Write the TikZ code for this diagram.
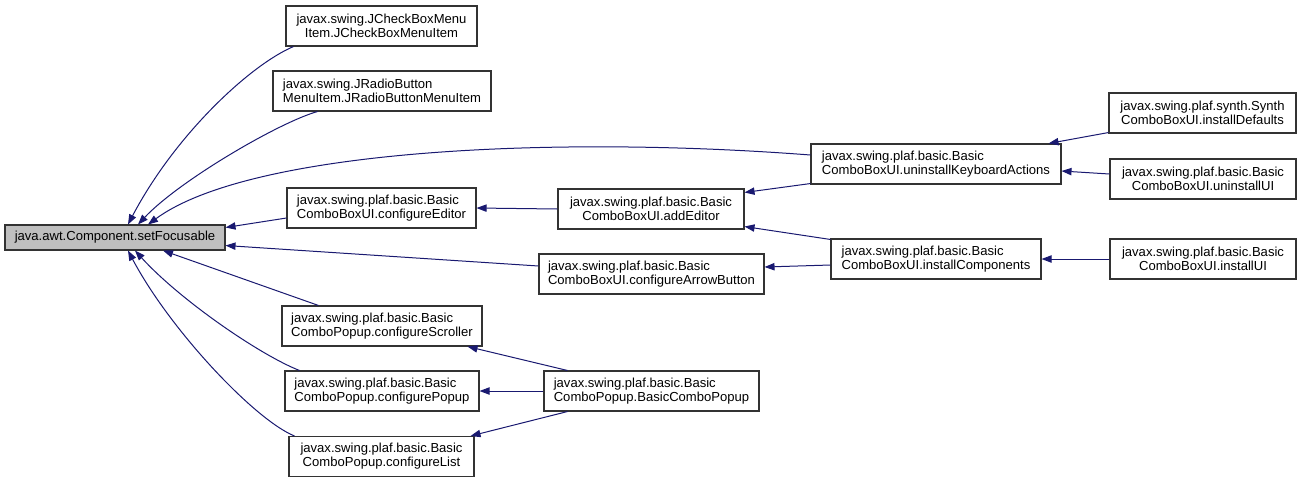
\documentclass[tikz,border=0pt]{standalone}
\usepackage{fontspec}
\setmainfont{Liberation Sans}
\usetikzlibrary{arrows.meta,calc}
\definecolor{edgeblue}{RGB}{25,25,112}
\definecolor{rootgray}{RGB}{191,191,191}
\tikzset{
  box/.style={draw=black!80,line width=0.8pt,fill=white,inner sep=0pt,font=\fontsize{9.8}{10.5}\selectfont,align=#1},
  box/.default=center,
  sz/.style n args={2}{minimum width=#1*0.75pt,minimum height=#2*0.75pt},
  edge/.style={draw=edgeblue,line width=0.75pt,-{Triangle[length=7.5pt,width=5.5pt]}}
}

\begin{document}
\begin{tikzpicture}[x=0.75pt,y=-0.75pt]
  \useasboundingbox (0,0) rectangle (1301,483);
  % callers, left to right
  \node[box,sz={220}{25},fill=rootgray] (root) at (115,237.5) {java.awt.Component.setFocusable};
  \node[box,sz={191}{40}] (jcheck) at (381.5,26) {javax.swing.JCheckBoxMenu\\Item.JCheckBoxMenuItem};
  \node[box=left,sz={218}{40}] (jradio) at (382,91) {javax.swing.JRadioButton\\MenuItem.JRadioButtonMenuItem};
  \node[box=left,sz={189}{40}] (cfgEditor) at (381.5,208) {javax.swing.plaf.basic.Basic\\ComboBoxUI.configureEditor};
  \node[box=left,sz={200}{40}] (cfgScroller) at (382,326) {javax.swing.plaf.basic.Basic\\ComboPopup.configureScroller};
  \node[box=left,sz={194}{40}] (cfgPopup) at (382,391) {javax.swing.plaf.basic.Basic\\ComboPopup.configurePopup};
  \node[box,sz={185}{40}] (cfgList) at (381.5,456.5) {javax.swing.plaf.basic.Basic\\ComboPopup.configureList};
  \node[box,sz={186}{40}] (addEditor) at (651,209) {javax.swing.plaf.basic.Basic\\ComboBoxUI.addEditor};
  \node[box=left,sz={225}{40}] (cfgArrow) at (651.5,274) {javax.swing.plaf.basic.Basic\\ComboBoxUI.configureArrowButton};
  \node[box=left,sz={215}{40}] (basicPopup) at (651.5,391) {javax.swing.plaf.basic.Basic\\ComboPopup.BasicComboPopup};
  \node[box=left,sz={250}{40}] (uninstKbd) at (936,164) {javax.swing.plaf.basic.Basic\\ComboBoxUI.uninstallKeyboardActions};
  \node[box=left,sz={210}{40}] (instComp) at (936,259) {javax.swing.plaf.basic.Basic\\ComboBoxUI.installComponents};
  \node[box,sz={187}{40}] (synthDef) at (1202.5,113) {javax.swing.plaf.synth.Synth\\ComboBoxUI.installDefaults};
  \node[box,sz={186}{40}] (uninstUI) at (1203,179) {javax.swing.plaf.basic.Basic\\ComboBoxUI.uninstallUI};
  \node[box,sz={186}{40}] (instUI) at (1203,259) {javax.swing.plaf.basic.Basic\\ComboBoxUI.installUI};
  % edges into the root
  \draw[edge] ($(jcheck.south west)+(8,0)$) .. controls (250,65) and (175,135) .. ($(root.north)+(13,0)$);
  \draw[edge] ($(jradio.south west)+(45,0)$) .. controls (280,122) and (180,180) .. ($(root.north)+(23,0)$);
  \draw[edge] ($(uninstKbd.west)+(0,-9)$) .. controls (550,135) and (250,150) .. ($(root.north)+(33,0)$);
  \draw[edge] ($(cfgEditor.west)+(0,10)$) -- ($(root.east)+(0,-10)$);
  \draw[edge] ($(cfgArrow.west)+(0,-8)$) -- ($(root.east)+(0,8)$);
  \draw[edge] ($(cfgScroller.north west)+(37,0)$) -- ($(root.south)+(48,0)$);
  \draw[edge] ($(cfgPopup.north west)+(15,0)$) .. controls (260,355) and (180,300) .. ($(root.south)+(20,0)$);
  \draw[edge] ($(cfgList.north west)+(6,0)$) .. controls (255,420) and (170,330) .. ($(root.south)+(13,0)$);
  % the rest
  \draw[edge] (addEditor.west) -- (cfgEditor.east);
  \draw[edge] ($(uninstKbd.south west)+(0,-1)$) -- ($(addEditor.north east)+(0,4)$);
  \draw[edge] ($(instComp.north west)+(0,1)$) -- ($(addEditor.south east)+(0,-3)$);
  \draw[edge] ($(instComp.west)+(0,6)$) -- ($(cfgArrow.east)+(0,-7)$);
  \draw[edge] ($(synthDef.south west)+(0,-1)$) -- ($(uninstKbd.north east)+(-13,0)$);
  \draw[edge] ($(uninstUI.west)+(0,-5)$) -- ($(uninstKbd.east)+(0,7)$);
  \draw[edge] (instUI.west) -- (instComp.east);
  \draw[edge] ($(basicPopup.north west)+(24,0)$) -- ($(cfgScroller.south east)+(-15,0)$);
  \draw[edge] (basicPopup.west) -- (cfgPopup.east);
  \draw[edge] ($(basicPopup.south west)+(24,0)$) -- ($(cfgList.north east)+(-4,0)$);
\end{tikzpicture}
\end{document}
